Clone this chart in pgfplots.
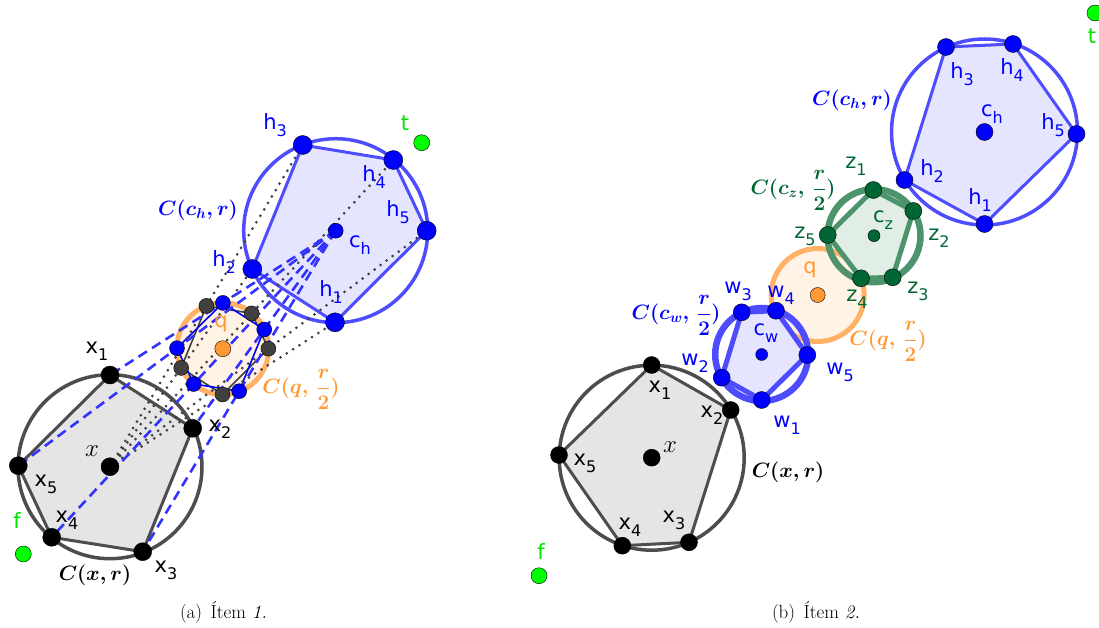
\documentclass[border=0pt]{standalone}
\usepackage{fontspec}
\usepackage{amsmath}
\usepackage{pgfplots}
\pgfplotsset{compat=1.18}
\newfontfamily\geo{DejaVu Sans}
\definecolor{cgray}{RGB}{77,77,77}
\definecolor{cgrayfill}{RGB}{229,229,229}
\definecolor{cblue}{RGB}{77,77,255}
\definecolor{cbluefill}{RGB}{229,229,255}
\definecolor{corange}{RGB}{255,178,102}
\definecolor{corangefill}{RGB}{255,243,230}
\definecolor{cq}{RGB}{255,153,51}
\definecolor{cgreen}{RGB}{0,102,51}
\definecolor{cgreenline}{RGB}{77,148,108}
\definecolor{cgreenfill}{RGB}{224,238,230}
\definecolor{clime}{RGB}{0,255,0}
\definecolor{climetext}{RGB}{0,225,0}
\definecolor{cdot}{RGB}{64,64,64}
\definecolor{cdash}{RGB}{51,51,255}
\definecolor{pblue}{RGB}{0,0,255}
\newcommand\pl[2]{{\geo\fontsize{21}{21}\selectfont #1\raisebox{-0.33em}{\fontsize{16}{16}\selectfont #2}}}
\newcommand\ml[1]{{\fontsize{20.74}{22}\selectfont\boldmath$#1$}}
\tikzset{
  lab/.style={inner sep=0pt, anchor=center},
}
\pgfplotsset{
  pt/.style={only marks, mark=*, mark size=#1, mark options={line width=1.4pt, draw=black}},
  dotl/.style={no marks, color=cdot, line width=3pt, line cap=round, dash pattern=on 0pt off 7.5pt},
  dashl/.style={no marks, color=cdash, line width=2.6pt, dash pattern=on 10pt off 6pt},
}
\begin{document}
\begin{tikzpicture}
\begin{axis}[name=ax, x=1pt, y=1pt, y dir=reverse, xmin=0, xmax=1099, ymin=0, ymax=628,
  hide axis, clip=false]
%%%%%%%%%%%%%%%% PANEL (a) %%%%%%%%%%%%%%%%
% C(x,r)
\draw[cgray, line width=3.5pt] (axis cs:110,466.7) circle[radius=92pt];
% x polygon
\addplot[no marks, draw=cgray, fill=cgrayfill, line width=3pt, line join=round]
  coordinates {(110,375) (192.7,428.3) (142.7,551.7) (51.7,537.3) (18.3,465.7) (110,375)};
% C(c_h,r)
\draw[cblue, line width=3.5pt] (axis cs:335.7,230.7) circle[radius=92pt];
% h polygon
\addplot[no marks, draw=cblue, fill=cbluefill, line width=3pt, line join=round]
  coordinates {(335,322.3) (252.3,269) (302.7,145) (393.3,160) (426.7,230.7) (335,322.3)};
% C(q,r/2)
\draw[corange, fill=corangefill, line width=5pt] (axis cs:222.8,348.7) circle[radius=46pt];
% inner pentagons
\addplot[no marks, draw=cdot, line width=1.6pt]
  coordinates {(222.5,394.5) (181.2,367.9) (206.4,305.9) (251.7,313.4) (268.4,348.7) (222.5,394.5)};
\addplot[no marks, draw=pblue, line width=1.6pt]
  coordinates {(222.9,302.9) (264.2,329.5) (239.2,391.2) (193.7,384) (177,348.2) (222.9,302.9)};
% dotted lines x -> h_i
\addplot[dotl] coordinates {(110,466.7) (335,322.3)};
\addplot[dotl] coordinates {(110,466.7) (252.3,269)};
\addplot[dotl] coordinates {(110,466.7) (302.7,145)};
\addplot[dotl] coordinates {(110,466.7) (393.3,160)};
\addplot[dotl] coordinates {(110,466.7) (426.7,230.7)};
% dashed lines c_h -> x_i
\addplot[dashl] coordinates {(335.7,230.7) (110,375)};
\addplot[dashl] coordinates {(335.7,230.7) (192.7,428.3)};
\addplot[dashl] coordinates {(335.7,230.7) (142.7,551.7)};
\addplot[dashl] coordinates {(335.7,230.7) (51.7,537.3)};
\addplot[dashl] coordinates {(335.7,230.7) (18.3,465.7)};
% midpoints
\addplot[pt=7.5pt, mark options={fill=cdot}]
  coordinates {(222.5,394.5) (181.2,367.9) (206.4,305.9) (251.7,313.4) (268.4,348.7)};
\addplot[pt=7.5pt, mark options={fill=pblue}]
  coordinates {(222.9,302.9) (264.2,329.5) (239.2,391.2) (193.7,384) (177,348.2)};
% main points
\addplot[pt=9pt, mark options={fill=black}]
  coordinates {(110,375) (192.7,428.3) (142.7,551.7) (51.7,537.3) (18.3,465.7) (110,466.7)};
\addplot[pt=9.5pt, mark options={fill=pblue}]
  coordinates {(335,322.3) (252.3,269) (302.7,145) (393.3,160) (426.7,230.7)};
\addplot[pt=7.5pt, mark options={fill=pblue}] coordinates {(335.7,230.7)};
\addplot[pt=8pt, mark options={fill=cq}] coordinates {(222.8,348.7)};
\addplot[pt=8pt, mark options={fill=clime}] coordinates {(421.7,142.7) (23.3,554)};
% labels (a)
\node[lab, text=pblue] at (axis cs:275,125) {\pl{h}{3}};
\node[lab, text=pblue] at (axis cs:374,177) {\pl{h}{4}};
\node[lab, text=pblue] at (axis cs:398,212) {\pl{h}{5}};
\node[lab, text=pblue] at (axis cs:360,245) {\pl{c}{h}};
\node[lab, text=pblue] at (axis cs:224,262) {\pl{h}{2}};
\node[lab, text=pblue] at (axis cs:331,292) {\pl{h}{1}};
\node[lab, text=climetext] at (axis cs:405,127) {\pl{t}{}};
\node[lab, text=climetext] at (axis cs:17,524) {\pl{f}{}};
\node[lab, text=cq] at (axis cs:221,325) {\pl{q}{}};
\node[lab] at (axis cs:97,351) {\pl{x}{1}};
\node[lab] at (axis cs:220,429) {\pl{x}{2}};
\node[lab] at (axis cs:166,570) {\pl{x}{3}};
\node[lab] at (axis cs:67,520) {\pl{x}{4}};
\node[lab] at (axis cs:46,484) {\pl{x}{5}};
\node[lab] at (axis cs:92,451) {\fontsize{24.88}{26}\selectfont$x$};
\node[lab, text=pblue] at (axis cs:198,210) {\ml{C(c_h,r)}};
\node[lab, text=cq] at (axis cs:301,389) {\ml{C(q,\,\dfrac{r}{2})}};
\node[lab] at (axis cs:95,575) {\ml{C(x,r)}};
%%%%%%%%%%%%%%%% PANEL (b) %%%%%%%%%%%%%%%%
% C(x,r)
\draw[cgray, line width=3.5pt] (axis cs:651.7,457.7) circle[radius=92.5pt];
\addplot[no marks, draw=cgray, fill=cgrayfill, line width=3pt, line join=round]
  coordinates {(651.7,365) (730.7,410) (689,542.3) (622.3,545.7) (559,455) (651.7,365)};
% C(q,r/2)
\draw[corange, fill=corangefill, line width=5pt] (axis cs:817.7,295) circle[radius=46.5pt];
% C(c_h,r)
\draw[cblue, line width=3.5pt] (axis cs:984.5,132) circle[radius=93pt];
\addplot[no marks, draw=cblue, fill=cbluefill, line width=3pt, line join=round]
  coordinates {(984.5,224) (904.5,180) (946,47) (1013,44) (1076.5,134) (984.5,224)};
% C(c_z,r/2)
\draw[cgreenline, line width=6.5pt] (axis cs:874,235.7) circle[radius=46.5pt];
\addplot[no marks, draw=cgreenline, fill=cgreenfill, line width=5pt, line join=round]
  coordinates {(873.3,190) (913.3,211) (892.7,277.3) (861,278.3) (827.7,235) (873.3,190)};
% C(c_w,r/2)
\draw[cblue, line width=6.5pt] (axis cs:761.7,354.5) circle[radius=46.5pt];
\addplot[no marks, draw=cblue, fill=cbluefill, line width=5pt, line join=round]
  coordinates {(761.7,400) (721.7,377.7) (741.7,312.3) (776,310.7) (807.3,355) (761.7,400)};
% points (b)
\addplot[pt=8.5pt, mark options={fill=black}]
  coordinates {(651.7,365) (730.7,410) (689,542.3) (622.3,545.7) (559,455) (651.7,457.7)};
\addplot[pt=8.5pt, mark options={fill=pblue}]
  coordinates {(984.5,224) (904.5,180) (946,47) (1013,44) (1076.5,134) (984.5,132)};
\addplot[pt=8.5pt, mark options={fill=cgreen}]
  coordinates {(873.3,190) (913.3,211) (892.7,277.3) (861,278.3) (827.7,235)};
\addplot[pt=6pt, mark options={fill=cgreen}] coordinates {(874,235.7)};
\addplot[pt=8.5pt, mark options={fill=pblue}]
  coordinates {(761.7,400) (721.7,377.7) (741.7,312.3) (776,310.7) (807.3,355)};
\addplot[pt=6pt, mark options={fill=pblue}] coordinates {(761.7,354.5)};
\addplot[pt=7.5pt, mark options={fill=cq}] coordinates {(817.7,295)};
\addplot[pt=8pt, mark options={fill=clime}] coordinates {(1095,13) (539,575.7)};
% labels (b)
\node[lab, text=pblue] at (axis cs:962,74) {\pl{h}{3}};
\node[lab, text=pblue] at (axis cs:1012,70) {\pl{h}{4}};
\node[lab, text=pblue] at (axis cs:1053,125) {\pl{h}{5}};
\node[lab, text=pblue] at (axis cs:992,114) {\pl{c}{h}};
\node[lab, text=pblue] at (axis cs:932,171) {\pl{h}{2}};
\node[lab, text=pblue] at (axis cs:980,200) {\pl{h}{1}};
\node[lab, text=pblue] at (axis cs:852,100) {\ml{C(c_h,r)}};
\node[lab, text=cgreen] at (axis cs:856,166) {\pl{z}{1}};
\node[lab, text=cgreen] at (axis cs:939,238) {\pl{z}{2}};
\node[lab, text=cgreen] at (axis cs:918,291) {\pl{z}{3}};
\node[lab, text=cgreen] at (axis cs:857,299) {\pl{z}{4}};
\node[lab, text=cgreen] at (axis cs:805,236) {\pl{z}{5}};
\node[lab, text=cgreen] at (axis cs:883,220) {\pl{c}{z}};
\node[lab, text=cgreen] at (axis cs:793,190) {\ml{C(c_z,\,\dfrac{r}{2})}};
\node[lab, text=cq] at (axis cs:810,271) {\pl{q}{}};
\node[lab, text=cq] at (axis cs:888,341) {\ml{C(q,\,\dfrac{r}{2})}};
\node[lab, text=pblue] at (axis cs:787,425) {\pl{w}{1}};
\node[lab, text=pblue] at (axis cs:695,363) {\pl{w}{2}};
\node[lab, text=pblue] at (axis cs:738,291) {\pl{w}{3}};
\node[lab, text=pblue] at (axis cs:781,295) {\pl{w}{4}};
\node[lab, text=pblue] at (axis cs:840,372) {\pl{w}{5}};
\node[lab, text=pblue] at (axis cs:766,333) {\pl{c}{w}};
\node[lab, text=pblue] at (axis cs:676,315) {\ml{C(c_w,\,\dfrac{r}{2})}};
\node[lab] at (axis cs:660,390) {\pl{x}{1}};
\node[lab] at (axis cs:712,415) {\pl{x}{2}};
\node[lab] at (axis cs:674,520) {\pl{x}{3}};
\node[lab] at (axis cs:630,527) {\pl{x}{4}};
\node[lab] at (axis cs:585,463) {\pl{x}{5}};
\node[lab] at (axis cs:670,447) {\fontsize{24.88}{26}\selectfont$x$};
\node[lab] at (axis cs:788,472) {\ml{C(x,r)}};
\node[lab, text=climetext] at (axis cs:541,555) {\pl{f}{}};
\node[lab, text=climetext] at (axis cs:1092,40) {\pl{t}{}};
% captions
\node[lab] at (axis cs:223.5,612) {\fontsize{19}{19}\selectfont (a)\hspace{0.45em}Ítem \textit{1.}};
\node[lab] at (axis cs:816,612) {\fontsize{19}{19}\selectfont (b)\hspace{0.45em}Ítem \textit{2.}};
\end{axis}
\pgfresetboundingbox
\useasboundingbox (ax.south west) rectangle (ax.north east);
\end{tikzpicture}
\end{document}
